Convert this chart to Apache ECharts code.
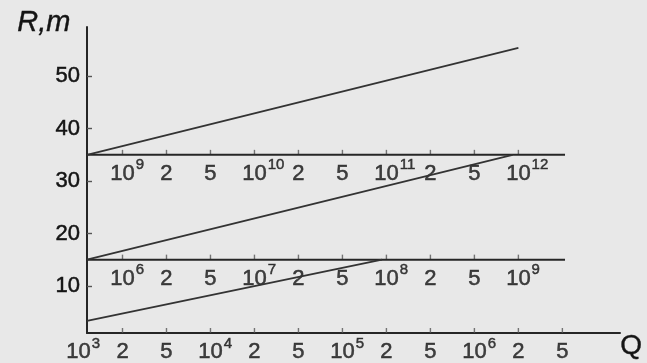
<!DOCTYPE html>
<html>
<head>
<meta charset="utf-8">
<script src="https://cdn.jsdelivr.net/npm/echarts@6/dist/echarts.min.js"></script>
<style>
  html, body { margin: 0; padding: 0; background: #e8e8e8; }
  #chart { width: 647px; height: 363px; }
</style>
</head>
<body>
<div id="chart"></div>
<script>
// x is the tick slot on the 1-2-5 scales (evenly spaced), y is R in metres
const yTicks = [10, 20, 30, 40, 50]

// three Q scales, each sitting on its own R baseline
const baseR = [35, 15, 1]
const baseEnd = [11.06, 11.06, 12.31]

const posTop = [1, 2, 3, 4, 5, 6, 7, 8, 9, 10]
const labelsTop = ['10^9', '2', '5', '10^10', '2', '5', '10^11', '2', '5', '10^12']

const posMid = [1, 2, 3, 4, 5, 6, 7, 8, 9, 10]
const labelsMid = ['10^6', '2', '5', '10^7', '2', '5', '10^8', '2', '5', '10^9']

const posBot = [0, 1, 2, 3, 4, 5, 6, 7, 8, 9, 10, 11]
const labelsBot = ['10^3', '2', '5', '10^4', '2', '5', '10^5', '2', '5', '10^6', '2', '5']

// R(Q) lines: [slot, R]
const lineTop = [[0.193, 35], [10, 55.4]]
const lineMid = [[0.193, 15], [9.87, 35]]
const lineBot = [[0.193, 3.3], [6.9, 15]]

const xMin = 0.193
const xMax = 12.31

const ink = '#262626'
const lineInk = '#333'
const textInk = '#141414'
const font = '"Liberation Sans", Arial, sans-serif'

const toRich = (label) => {
  const [b, e] = label.split('^')
  if (!e) return `{b|${b}}`
  return `{s|${e}}{b|${b}}{e|${e}}`
}

const heavy = { textBorderColor: textInk, textBorderWidth: 0.5 }
const richStyles = {
  b: { fontSize: 22, fontFamily: font, color: textInk, lineHeight: 32, ...heavy },
  e: { fontSize: 15, fontFamily: font, color: textInk, lineHeight: 12, verticalAlign: 'top', padding: [0, 0, 0, 1], ...heavy },
  s: { fontSize: 15, fontFamily: font, color: 'transparent', lineHeight: 12, verticalAlign: 'top', padding: [0, 1, 0, 0] }
}

const scales = [
  { pos: posTop, labels: labelsTop, r: baseR[0] },
  { pos: posMid, labels: labelsMid, r: baseR[1] },
  { pos: posBot, labels: labelsBot, r: baseR[2] }
]

const series = []

// baselines of the upper two scales (the lower one is the x axis)
for (let i = 0; i < 2; i++) {
  series.push({
    type: 'line',
    data: [[xMin, baseR[i]], [baseEnd[i], baseR[i]]],
    symbol: 'none',
    lineStyle: { color: ink, width: 2 },
    silent: true
  })
}

// R lines
;[lineTop, lineMid, lineBot].forEach(d => {
  series.push({
    type: 'line',
    data: d,
    symbol: 'none',
    lineStyle: { color: lineInk, width: 1.8 },
    silent: true
  })
})

// ticks and labels of each scale
scales.forEach(sc => {
  series.push({
    type: 'scatter',
    data: sc.pos.filter(p => p >= 1).map(p => [p, sc.r]),
    symbol: 'rect',
    symbolSize: [1.4, 5],
    symbolOffset: [0, -2.5],
    itemStyle: { color: '#555' },
    silent: true,
    clip: false
  })
  series.push({
    type: 'scatter',
    data: sc.pos.map((p, i) => ({ value: [p, sc.r], name: sc.labels[i] })),
    symbolSize: 0,
    silent: true,
    clip: false,
    label: {
      show: true,
      position: 'inside',
      offset: [0, 19],
      formatter: (p) => toRich(p.name),
      rich: richStyles
    }
  })
})

const chart = echarts.init(document.getElementById('chart'))
chart.setOption({
  animation: false,
  backgroundColor: '#e8e8e8',
  grid: { left: 87, right: 27, top: 27, bottom: 30 },
  xAxis: {
    type: 'value',
    min: xMin,
    max: xMax,
    axisLine: { show: true, lineStyle: { color: ink, width: 2 } },
    axisTick: { show: false },
    axisLabel: { show: false },
    splitLine: { show: false }
  },
  yAxis: {
    type: 'value',
    min: 1,
    max: 59.4,
    axisLine: { show: true, lineStyle: { color: ink, width: 2 } },
    axisTick: { show: true, inside: true, length: 5, customValues: yTicks, lineStyle: { color: '#555', width: 1.4 } },
    axisLabel: { show: true, customValues: yTicks, margin: 7, fontSize: 22, fontFamily: font, color: textInk, ...heavy },
    splitLine: { show: false }
  },
  graphic: [
    { type: 'text', left: 17, top: 8, style: { text: 'R,m', font: 'italic 29px ' + font, fill: textInk, stroke: textInk, lineWidth: 0.4 } },
    { type: 'text', left: 620, top: 332, style: { text: 'Q', font: '28px ' + font, fill: textInk, stroke: textInk, lineWidth: 0.4 } }
  ],
  series
})
</script>
</body>
</html>
